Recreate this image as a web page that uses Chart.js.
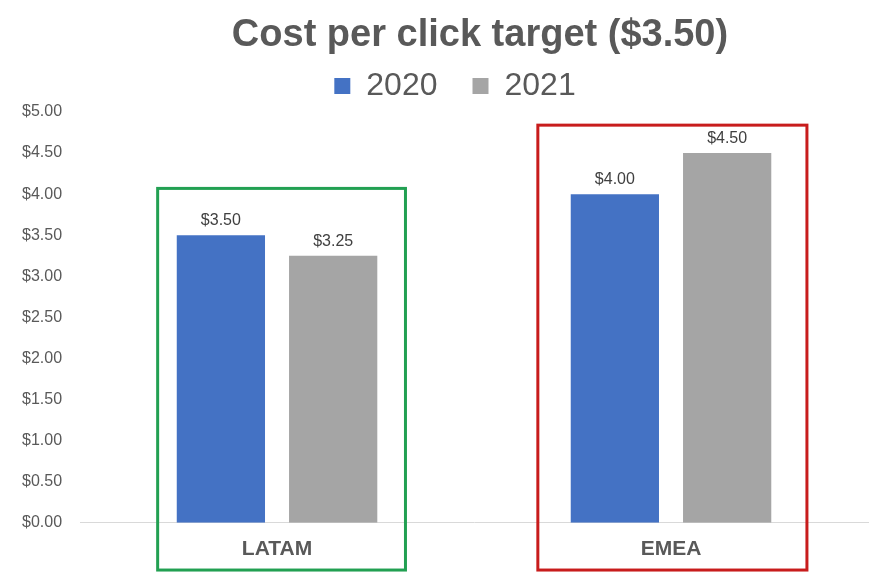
<!DOCTYPE html>
<html><head><meta charset="utf-8">
<script src="https://cdn.jsdelivr.net/npm/chart.js@4/dist/chart.umd.min.js"></script>
<style>html,body{margin:0;padding:0;background:#fff}#wrap{width:884px;height:588px;position:relative}</style>
</head><body><div id="wrap"><canvas id="c"></canvas></div>
<script>
const categories = ['LATAM', 'EMEA'];
const seriesNames = ['2020', '2021'];
const values2020 = [3.50, 4.00];
const values2021 = [3.25, 4.50];
const yTickValues = [0, 0.5, 1, 1.5, 2, 2.5, 3, 3.5, 4, 4.5, 5];

// highlight boxes (in data units: category offset and value)
const boxCategories = ['LATAM', 'EMEA'];
const boxLeft = [-0.303, -0.338];
const boxRight = [0.326, 0.345];
const boxTop = [4.07, 4.84];
const boxBottom = [-0.575, -0.575];
const boxColors = ['#22A052', '#C81C1C'];

const FONT = "'Liberation Sans', Arial, sans-serif";
const TXT = '#595959';

const shiftPlugin = {
  id: 'shift',
  beforeLayout(chart, args, opts) {
    const lg = chart.legend;
    if (lg && !lg._fitWrapped) {
      const orig = lg.fit;
      lg.fit = function () { orig.call(this); this.height = opts.legendHeight; };
      lg._fitWrapped = true;
    }
  },
  afterLayout(chart, args, opts) {
    if (chart.titleBlock) { chart.titleBlock.left += opts.titleDx; chart.titleBlock.right += opts.titleDx; }
    if (chart.legend) { chart.legend.left += opts.legendDx; chart.legend.right += opts.legendDx; }
  }
};

const labelPlugin = {
  id: 'barLabels',
  afterDatasetsDraw(chart) {
    const ctx = chart.ctx;
    ctx.save();
    ctx.font = '16px ' + FONT;
    ctx.fillStyle = '#404040';
    ctx.textAlign = 'center';
    ctx.textBaseline = 'alphabetic';
    chart.data.datasets.forEach((ds, i) => {
      chart.getDatasetMeta(i).data.forEach((bar, j) => {
        ctx.fillText('$' + ds.data[j].toFixed(2), bar.x, bar.y - 10);
      });
    });
    ctx.restore();
  }
};

const boxPlugin = {
  id: 'boxes',
  afterDraw(chart) {
    const ctx = chart.ctx, xs = chart.scales.x, ys = chart.scales.y;
    ctx.save();
    ctx.lineWidth = 3;
    boxCategories.forEach((c, k) => {
      const i = categories.indexOf(c);
      const l = xs.getPixelForValue(i + boxLeft[k]);
      const r = xs.getPixelForValue(i + boxRight[k]);
      const t = ys.getPixelForValue(boxTop[k]);
      const b = ys.getPixelForValue(boxBottom[k]);
      ctx.strokeStyle = boxColors[k];
      ctx.strokeRect(l, t, r - l, b - t);
    });
    ctx.restore();
  }
};

new Chart(document.getElementById('c'), {
  type: 'bar',
  data: {
    labels: categories,
    datasets: [
      { label: seriesNames[0], data: values2020, backgroundColor: '#4472C4', borderWidth: 0,
        categoryPercentage: 0.57, barPercentage: 0.786 },
      { label: seriesNames[1], data: values2021, backgroundColor: '#A5A5A5', borderWidth: 0,
        categoryPercentage: 0.57, barPercentage: 0.786 }
    ]
  },
  options: {
    responsive: true,
    maintainAspectRatio: false,
    animation: false,
    layout: { padding: { left: 4, right: 16, top: 0, bottom: 12 } },
    plugins: {
      title: {
        display: true,
        text: 'Cost per click target ($3.50)',
        color: TXT,
        font: { family: FONT, size: 38, weight: 'bold', lineHeight: 1.0 },
        padding: { top: 17, bottom: -20 }
      },
      legend: {
        display: true,
        position: 'top',
        labels: {
          color: TXT,
          font: { family: FONT, size: 32 },
          boxWidth: 16, boxHeight: 16,
          padding: 35
        }
      },
      tooltip: { enabled: false },
      shift: { titleDx: 44, legendDx: 19, legendHeight: 77 }
    },
    scales: {
      x: {
        grid: { display: false, drawTicks: false },
        border: { display: true, color: '#D9D9D9', width: 1 },
        ticks: { color: TXT, font: { family: FONT, size: 21, weight: 'bold' }, padding: 14 }
      },
      y: {
        min: 0, max: 5,
        afterBuildTicks: (s) => { s.ticks = yTickValues.map(v => ({ value: v })); },
        grid: { display: false, drawTicks: false },
        border: { display: false },
        ticks: {
          color: TXT, font: { family: FONT, size: 16 }, padding: 18,
          callback: (v) => '$' + Number(v).toFixed(2)
        }
      }
    }
  },
  plugins: [shiftPlugin, labelPlugin, boxPlugin]
});
</script>
</body></html>
